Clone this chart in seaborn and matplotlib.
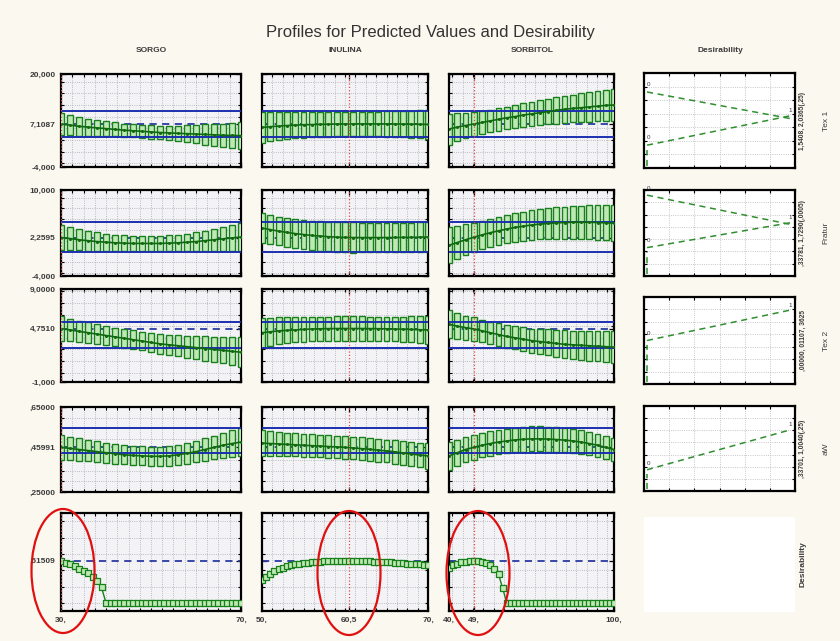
import numpy as np
import pandas as pd
import seaborn as sns
import matplotlib.pyplot as plt
from matplotlib.patches import Ellipse
from matplotlib.ticker import MultipleLocator

sns.set_theme(style="white")
plt.rcParams['font.family'] = ['Liberation Sans', 'DejaVu Sans']

# factors and current settings
factors = ['SORGO', 'INULINA', 'SORBITOL']
current = [30, 60.5, 49]
responses = ['Tex 1', 'Fratur', 'Tex 2', 'aW']
resp_ranges = ['1,5408, 2,0365(,25)', ',33781, 1,7290(,0005)',
               ',00000, 01107, 3625', ',33701, 1,0040(,25)']

# x grids of the profiles
x_sorgo = [30, 32, 34, 36, 38, 40, 42, 44, 46, 48, 50, 52, 54, 56, 58, 60, 62, 64, 66, 68, 70]
x_inulina = [50, 51, 52, 53, 54, 55, 56, 57, 58, 59, 60, 61, 62, 63, 64, 65, 66, 67, 68, 69, 70]
x_sorbitol = [40, 43, 46, 49, 52, 55, 58, 61, 64, 67, 70, 73, 76, 79, 82, 85, 88, 91, 94, 97, 100]

# Tex 1
tex1_sorgo = [7.11, 6.8, 6.5, 6.3, 6.1, 5.9, 5.7, 5.5, 5.35, 5.2, 5.05, 4.9, 4.8, 4.7, 4.6, 4.5, 4.4, 4.3, 4.2, 4.15, 4.1]
tex1_sorgo_ci = [2.8, 2.6, 2.4, 2.2, 2.0, 1.9, 1.8, 1.7, 1.7, 1.7, 1.7, 1.8, 1.9, 2.0, 2.2, 2.4, 2.6, 2.8, 3.0, 3.2, 3.4]
tex1_inulina = [6.2, 6.4, 6.55, 6.7, 6.8, 6.9, 6.95, 7.0, 7.05, 7.08, 7.1, 7.11, 7.12, 7.12, 7.12, 7.11, 7.1, 7.08, 7.05, 7.02, 7.0]
tex1_inulina_ci = [4.0, 3.8, 3.6, 3.5, 3.4, 3.3, 3.3, 3.2, 3.2, 3.2, 3.2, 3.2, 3.2, 3.2, 3.2, 3.3, 3.3, 3.4, 3.5, 3.6, 3.8]
tex1_sorbitol = [5.8, 6.3, 6.7, 7.1, 7.5, 7.9, 8.3, 8.7, 9.0, 9.4, 9.7, 10.0, 10.3, 10.6, 10.9, 11.1, 11.3, 11.5, 11.7, 11.9, 12.0]
tex1_sorbitol_ci = [4.0, 3.6, 3.3, 3.1, 3.0, 2.9, 2.9, 2.9, 3.0, 3.0, 3.1, 3.2, 3.3, 3.4, 3.5, 3.6, 3.7, 3.8, 3.9, 4.0, 4.2]

# Fratur
fra_sorgo = [2.26, 2.1, 1.9, 1.75, 1.6, 1.5, 1.4, 1.35, 1.3, 1.3, 1.3, 1.3, 1.35, 1.4, 1.5, 1.6, 1.75, 1.9, 2.05, 2.2, 2.35]
fra_sorgo_ci = [2.0, 1.9, 1.7, 1.6, 1.5, 1.4, 1.3, 1.25, 1.2, 1.2, 1.2, 1.2, 1.25, 1.3, 1.4, 1.5, 1.6, 1.8, 1.9, 2.1, 2.3]
fra_inulina = [3.8, 3.55, 3.3, 3.1, 2.9, 2.75, 2.6, 2.5, 2.4, 2.33, 2.28, 2.26, 2.25, 2.25, 2.25, 2.26, 2.27, 2.28, 2.3, 2.32, 2.35]
fra_inulina_ci = [2.4, 2.35, 2.3, 2.3, 2.3, 2.4, 2.4, 2.4, 2.4, 2.4, 2.45, 2.45, 2.4, 2.4, 2.4, 2.4, 2.4, 2.4, 2.4, 2.45, 2.5]
fra_sorbitol = [1.0, 1.45, 1.9, 2.3, 2.7, 3.05, 3.35, 3.65, 3.9, 4.1, 4.3, 4.45, 4.55, 4.65, 4.7, 4.75, 4.75, 4.75, 4.7, 4.65, 4.6]
fra_sorbitol_ci = [2.9, 2.7, 2.5, 2.4, 2.3, 2.3, 2.3, 2.3, 2.3, 2.35, 2.4, 2.45, 2.5, 2.55, 2.6, 2.65, 2.7, 2.75, 2.8, 2.85, 2.9]

# Tex 2
tex2_sorgo = [4.75, 4.6, 4.45, 4.3, 4.15, 4.0, 3.85, 3.7, 3.55, 3.4, 3.25, 3.1, 3.0, 2.9, 2.8, 2.7, 2.6, 2.5, 2.4, 2.3, 2.2]
tex2_sorgo_ci = [1.3, 1.2, 1.15, 1.1, 1.05, 1.0, 1.0, 1.0, 1.0, 1.0, 1.0, 1.05, 1.1, 1.15, 1.2, 1.25, 1.3, 1.35, 1.4, 1.5, 1.6]
tex2_inulina = [4.3, 4.4, 4.5, 4.55, 4.6, 4.65, 4.7, 4.72, 4.74, 4.75, 4.75, 4.75, 4.75, 4.74, 4.73, 4.72, 4.7, 4.68, 4.65, 4.62, 4.6]
tex2_inulina_ci = [1.6, 1.5, 1.45, 1.4, 1.35, 1.3, 1.3, 1.3, 1.3, 1.3, 1.3, 1.3, 1.3, 1.3, 1.3, 1.3, 1.3, 1.35, 1.4, 1.45, 1.5]
tex2_sorbitol = [5.2, 5.0, 4.85, 4.7, 4.5, 4.3, 4.1, 3.9, 3.75, 3.6, 3.45, 3.35, 3.25, 3.15, 3.05, 3.0, 2.95, 2.9, 2.85, 2.8, 2.75]
tex2_sorbitol_ci = [1.5, 1.4, 1.3, 1.25, 1.2, 1.2, 1.2, 1.2, 1.25, 1.3, 1.3, 1.35, 1.4, 1.45, 1.5, 1.5, 1.55, 1.6, 1.6, 1.65, 1.7]

# aW
aw_sorgo = [0.46, 0.455, 0.45, 0.445, 0.44, 0.435, 0.43, 0.425, 0.422, 0.42, 0.418, 0.418, 0.42, 0.425, 0.432, 0.44, 0.45, 0.46, 0.47, 0.478, 0.485]
aw_sorgo_ci = [0.058, 0.055, 0.052, 0.05, 0.048, 0.047, 0.046, 0.045, 0.045, 0.045, 0.045, 0.045, 0.046, 0.047, 0.048, 0.05, 0.052, 0.055, 0.058, 0.062, 0.066]
aw_inulina = [0.48, 0.478, 0.476, 0.474, 0.472, 0.47, 0.468, 0.466, 0.464, 0.462, 0.46, 0.457, 0.454, 0.451, 0.447, 0.443, 0.439, 0.434, 0.429, 0.424, 0.42]
aw_inulina_ci = [0.06, 0.058, 0.056, 0.055, 0.054, 0.053, 0.053, 0.053, 0.053, 0.053, 0.053, 0.053, 0.053, 0.053, 0.054, 0.054, 0.055, 0.056, 0.057, 0.058, 0.06]
aw_sorbitol = [0.42, 0.435, 0.45, 0.46, 0.47, 0.478, 0.485, 0.49, 0.495, 0.498, 0.5, 0.5, 0.499, 0.497, 0.494, 0.49, 0.485, 0.478, 0.47, 0.46, 0.45]
aw_sorbitol_ci = [0.065, 0.062, 0.06, 0.058, 0.057, 0.057, 0.057, 0.057, 0.058, 0.058, 0.059, 0.059, 0.059, 0.059, 0.058, 0.057, 0.056, 0.055, 0.054, 0.053, 0.052]

# overall desirability profiles
xd_sorgo = [30, 31, 32, 33, 34, 35, 36, 37, 38, 39, 40, 41, 42, 43, 44, 45, 46, 47, 48, 49, 50,
            51, 52, 53, 54, 55, 56, 57, 58, 59, 60, 61, 62, 63, 64, 65, 66, 67, 68, 69, 70]
xd_inulina = [50, 50.5, 51, 51.5, 52, 52.5, 53, 53.5, 54, 54.5, 55, 55.5, 56, 56.5, 57, 57.5, 58, 58.5, 59, 59.5, 60,
              60.5, 61, 61.5, 62, 62.5, 63, 63.5, 64, 64.5, 65, 65.5, 66, 66.5, 67, 67.5, 68, 68.5, 69, 69.5, 70]
xd_sorbitol = [40, 41.5, 43, 44.5, 46, 47.5, 49, 50.5, 52, 53.5, 55, 56.5, 58, 59.5, 61, 62.5, 64, 65.5, 67, 68.5, 70,
               71.5, 73, 74.5, 76, 77.5, 79, 80.5, 82, 83.5, 85, 86.5, 88, 89.5, 91, 92.5, 94, 95.5, 97, 98.5, 100]
des_sorgo = [0.515, 0.49, 0.47, 0.445, 0.42, 0.39, 0.36, 0.32, 0.27, 0.19] + [0.0] * 31
des_inulina = [0.28, 0.32, 0.355, 0.385, 0.41, 0.43, 0.445, 0.46, 0.47, 0.48, 0.487, 0.493, 0.498, 0.502,
               0.505, 0.508, 0.51, 0.512, 0.513, 0.514, 0.515, 0.515, 0.514, 0.513, 0.512, 0.51, 0.508,
               0.505, 0.502, 0.5, 0.497, 0.494, 0.49, 0.487, 0.484, 0.48, 0.477, 0.474, 0.47, 0.467, 0.463]
des_sorbitol = [0.43, 0.46, 0.48, 0.495, 0.505, 0.512, 0.515, 0.512, 0.5, 0.485, 0.46, 0.42, 0.35, 0.18] + [0.0] * 27
des_current = 0.51509

# individual desirability functions (right column)
dfun_x = [0.02, 0.97]
dfun_upper = [[0.80, 0.52], [0.94, 0.60], None, None]
dfun_lower = [[0.24, 0.55], [0.33, 0.62], [0.50, 0.85], [0.25, 0.72]]

# axes settings per response row
row_lims = [(-4, 20), (-4, 10), (-1, 9), (0.25, 0.65)]
row_pred = [7.1087, 2.2595, 4.7510, 0.45991]
row_spec = [(3.7, 10.45), (-0.1, 4.8), (2.65, 5.45), (0.435, 0.55)]
row_ticklabels = [['-4,000', '7,1087', '20,000'], ['-4,000', '2,2595', '10,000'],
                  ['-1,000', '4,7510', '9,0000'], [',25000', ',45991', ',65000']]

x_grids = [x_sorgo, x_inulina, x_sorbitol]
profiles = [[tex1_sorgo, tex1_inulina, tex1_sorbitol],
            [fra_sorgo, fra_inulina, fra_sorbitol],
            [tex2_sorgo, tex2_inulina, tex2_sorbitol],
            [aw_sorgo, aw_inulina, aw_sorbitol]]
intervals = [[tex1_sorgo_ci, tex1_inulina_ci, tex1_sorbitol_ci],
             [fra_sorgo_ci, fra_inulina_ci, fra_sorbitol_ci],
             [tex2_sorgo_ci, tex2_inulina_ci, tex2_sorbitol_ci],
             [aw_sorgo_ci, aw_inulina_ci, aw_sorbitol_ci]]
des_x = [xd_sorgo, xd_inulina, xd_sorbitol]
des_y = [des_sorgo, des_inulina, des_sorbitol]
col_lims = [(30, 70), (50, 70), (40, 100)]
col_xticks = [[30, 70], [50, 60.5, 70], [40, 49, 100]]
col_xlabels = [['30,', '70,'], ['50,', '60,5', '70,'], ['40,', '49,', '100,']]

W, H = 840, 641
fig = plt.figure(figsize=(W / 100, H / 100), dpi=100)
fig.patch.set_facecolor('#fbf8ef')

cols_px = [(61, 241), (262, 428), (449, 614), (644, 795)]
rows_px = [(74, 167), (190, 276), (289, 382), (407, 492), (513, 611)]
rows_px_des = [(73, 168), (190, 276), (297, 384), (406, 491), (517, 612)]

GREEN = '#17801a'
LIGHT = '#bfe9b4'
BLUE = '#1c2fb0'
RED = '#e04848'
TXT = '#3a3a3a'


def rect(cx, ry):
    return [cx[0] / W, 1 - ry[1] / H, (cx[1] - cx[0]) / W, (ry[1] - ry[0]) / H]


def style_panel(ax, xstep, ystep):
    ax.set_facecolor('#f3f3f6')
    ax.xaxis.set_minor_locator(MultipleLocator(xstep))
    ax.yaxis.set_minor_locator(MultipleLocator(ystep))
    ax.grid(which='minor', ls=':', color='#a8a8b4', lw=0.6)
    ax.grid(which='major', visible=False)
    ax.tick_params(which='both', direction='in', top=True, right=True,
                   bottom=True, left=True, color='black')
    ax.tick_params(which='minor', length=2.5, width=0.8)
    ax.tick_params(which='major', length=3.5, width=0.9, labelsize=6,
                   labelcolor=TXT, pad=4)
    for s in ax.spines.values():
        s.set_linewidth(1.6)
        s.set_color('black')
    ax.set_xlabel('')
    ax.set_ylabel('')


for r in range(4):
    lo, hi = row_lims[r]
    for c in range(3):
        ax = fig.add_axes(rect(cols_px[c], rows_px[r]))
        xs = np.array(x_grids[c])
        m = np.array(profiles[r][c])
        hw = np.array(intervals[r][c])
        step = xs[1] - xs[0]
        ax.bar(xs, 2 * hw, bottom=m - hw, width=step * 0.7, color=LIGHT,
               edgecolor=GREEN, linewidth=1.0, zorder=3)
        ax.axhline(row_spec[r][0], color=BLUE, lw=1.4, zorder=4)
        ax.axhline(row_spec[r][1], color=BLUE, lw=1.4, zorder=4)
        ax.axhline(row_pred[r], color='#2a3aa0', lw=1.3, ls=(0, (4, 3)), zorder=2)
        sns.lineplot(x=xs, y=m, ax=ax, color='#0f6a0f', lw=1.2, marker='o',
                     markersize=2.2, markeredgewidth=0, zorder=5)
        ax.axvline(current[c], color=RED, lw=0.9, ls=':', zorder=6)
        ax.set_xlim(*col_lims[c])
        ax.set_ylim(lo, hi)
        xr = col_lims[c][1] - col_lims[c][0]
        style_panel(ax, xr / 16, (hi - lo) / 8)
        ax.set_xticks(col_xticks[c])
        ax.set_xticklabels([])
        ax.set_yticks([lo, row_pred[r], hi])
        if c == 0:
            ax.set_yticklabels(row_ticklabels[r], fontweight='bold')
        else:
            ax.set_yticklabels([])

    # individual desirability function
    ax = fig.add_axes(rect(cols_px[3], rows_px_des[r]))
    if dfun_upper[r] is not None:
        sns.lineplot(x=dfun_x, y=dfun_upper[r], ax=ax, color='#2f8f2f', lw=1.1,
                     linestyle=(0, (4, 3)))
        ax.text(0.02, dfun_upper[r][0] + 0.06, '0', fontsize=4.5, color=TXT)
    sns.lineplot(x=dfun_x, y=dfun_lower[r], ax=ax, color='#2f8f2f', lw=1.1,
                 linestyle=(0, (4, 3)))
    ax.text(0.02, dfun_lower[r][0] + 0.06, '0', fontsize=4.5, color=TXT)
    ax.text(0.955, dfun_lower[r][1] + 0.04, '1', fontsize=4.5, color=TXT)
    ax.vlines(0.02, 0.02, dfun_lower[r][0] - 0.05, color='#2f8f2f', lw=1.1,
              linestyle=(0, (4, 3)))
    ax.set_xlim(0, 1)
    ax.set_ylim(0, 1)
    style_panel(ax, 1 / 6, 1 / 7)
    ax.set_xticks([])
    ax.set_yticks([])
    ax.set_facecolor('white')
    ax.grid(which='minor', ls=':', color='#b4b4bc', lw=0.6)
    yc = 1 - (rows_px_des[r][0] + rows_px_des[r][1]) / 2 / H
    fig.text(803 / W, yc, resp_ranges[r], rotation=90, fontsize=4.8,
             fontweight='bold', color=TXT, ha='center', va='center')
    fig.text(826 / W, yc, responses[r], rotation=90, fontsize=6,
             color=TXT, ha='center', va='center')

# desirability row
for c in range(3):
    ax = fig.add_axes(rect(cols_px[c], rows_px[4]))
    ax.axhline(des_current, color='#2a3aa0', lw=1.3, ls=(0, (4, 3)), zorder=2)
    sns.lineplot(x=des_x[c], y=des_y[c], ax=ax, color=GREEN, lw=1.0, zorder=3)
    sns.scatterplot(x=des_x[c], y=des_y[c], ax=ax, marker='s', s=15,
                    facecolor=LIGHT, edgecolor=GREEN, linewidth=0.9, zorder=4)
    ax.axvline(current[c], color=RED, lw=0.9, ls=':', zorder=6)
    ax.set_xlim(*col_lims[c])
    ax.set_ylim(-0.1, 1.1)
    xr = col_lims[c][1] - col_lims[c][0]
    style_panel(ax, xr / 16, 0.2)
    ax.set_xticks(col_xticks[c])
    ax.set_xticklabels(col_xlabels[c], fontweight='bold')
    ax.set_yticks([des_current])
    if c == 0:
        ax.set_yticklabels([',51509'], fontweight='bold')
    else:
        ax.set_yticklabels([])

ax = fig.add_axes(rect(cols_px[3], rows_px_des[4]))
ax.set_facecolor('white')
ax.set_xticks([])
ax.set_yticks([])
for s in ax.spines.values():
    s.set_visible(False)
fig.text(803 / W, 1 - 564 / H, 'Desirability', rotation=90, fontsize=6,
         fontweight='bold', color=TXT, ha='center', va='center')

# titles
fig.text(430 / W, 1 - 33 / H, 'Profiles for Predicted Values and Desirability',
         fontsize=12, color='#333333', ha='center', va='center')
for name, xc in zip(factors + ['Desirability'], [151, 345, 532, 720]):
    fig.text(xc / W, 1 - 51 / H, name, fontsize=6, fontweight='bold',
             color=TXT, ha='center', va='center')

# highlight ellipses
for cx, cy in [(63, 571), (349, 573), (478, 573)]:
    fig.add_artist(Ellipse((cx / W, 1 - cy / H), 63 / W, 124 / H,
                           transform=fig.transFigure, fill=False,
                           edgecolor='#e01010', lw=1.6))

fig.savefig('out.png', dpi=100, facecolor=fig.get_facecolor())
